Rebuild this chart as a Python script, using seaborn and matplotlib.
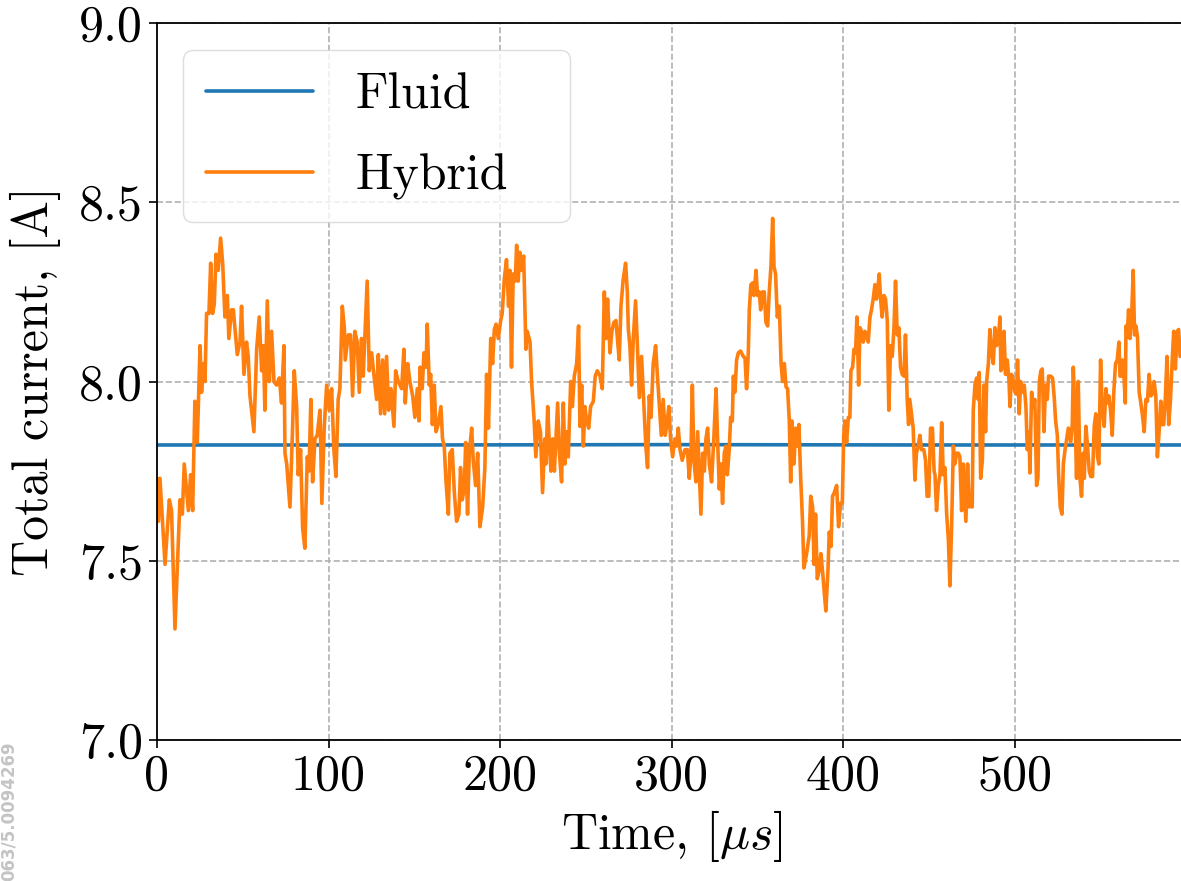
import numpy as np
import pandas as pd
import matplotlib
matplotlib.use("Agg")
import matplotlib.pyplot as plt
import seaborn as sns

# values
fluid_time = [0.0, 150.0, 300.0, 450.0, 597.0]
fluid_current = [7.823, 7.823, 7.824, 7.823, 7.823]

hybrid_time = [
    0.0, 0.8, 1.75, 4.7, 7.2, 8.5, 10.5, 13.4, 14.8, 15.9, 18.3, 19.6, 20.8, 22.1, 23.5,
    25.1, 26.0, 27.0, 28.0, 28.9, 30.3, 31.3, 32.4, 33.4, 34.4, 35.7, 37.1, 38.3, 39.6,
    41.0, 41.9, 43.5, 44.5, 46.8, 48.4, 49.3, 50.7, 52.2, 53.2, 54.2, 56.5, 58.1, 59.6,
    61.0, 62.0, 62.9, 64.3, 65.5, 66.8, 68.2, 69.7, 71.3, 72.6, 74.0, 74.6,
    75.6, 77.5, 78.9, 80.0, 81.4, 82.3, 83.7, 84.9, 86.2, 87.6, 88.6, 89.7, 90.7, 92.1,
    93.4, 95.0, 96.1, 97.5, 98.9, 100.4, 101.8, 103.1, 104.3, 105.6, 106.6, 108.0, 109.2,
    109.7, 111.5, 112.8, 114.0, 115.3, 116.7, 117.9, 119.2, 120.2, 121.2, 122.5, 123.7,
    125.1, 126.4, 128.0, 129.0, 130.3, 131.5, 132.7, 133.8, 135.0, 136.4, 138.1, 139.1,
    140.6, 141.6, 142.6, 143.9, 144.7, 146.1, 147.4, 149.0, 150.3,
    151.7, 152.7, 153.3, 154.6, 155.6, 156.8, 157.5, 158.7, 159.5, 160.5, 161.6, 162.6,
    163.9, 165.5, 166.4, 167.4, 168.4, 169.8, 170.7, 172.1, 173.3, 174.6, 176.0, 176.9,
    177.9, 179.1, 179.9, 181.0, 182.0, 183.4, 184.3, 185.7, 186.9, 188.2, 189.8, 191.1,
    192.1, 193.2, 194.5, 195.6, 196.6, 197.6, 198.9, 200.3, 201.2, 202.4, 203.7, 204.9,
    205.7, 206.6, 207.6, 208.8, 209.6, 210.5, 211.5, 212.5, 213.7, 215.0, 215.8, 217.4,
    218.3, 219.7, 220.8, 222.2, 223.5, 224.7, 226.0,
    226.7, 227.7, 228.6, 229.6, 230.6, 231.6, 232.5, 233.5, 234.5, 235.8, 236.8, 237.8,
    238.7, 239.7, 241.1, 242.1, 243.2, 244.6, 245.7, 246.5, 247.5, 248.5, 249.4, 250.4,
    251.6, 252.7, 254.3, 255.4, 256.6, 258.2, 259.5, 260.7, 261.7, 262.6, 264.0, 265.1,
    266.3, 267.5, 268.5, 269.4, 270.4, 271.7, 273.1, 274.1, 274.7, 275.6, 276.6, 277.6,
    278.9, 279.9, 281.1, 282.4, 283.8, 284.9, 285.9, 286.9, 287.9, 289.2, 290.6, 291.6,
    292.7, 293.9, 295.0, 296.2, 297.4, 298.3, 299.3, 300.5, 301.8,
    302.8, 303.8, 304.8, 306.1, 307.7, 309.1, 310.2, 311.2, 312.0, 312.9, 314.1, 315.1,
    316.0, 317.0, 318.0, 319.0, 319.9, 320.9, 321.9, 323.2, 324.6, 325.8, 326.7, 327.7,
    328.7, 329.6, 330.6, 331.6, 332.4, 333.5, 334.3, 335.3, 335.9, 336.8, 337.8, 338.8,
    340.1, 341.7, 342.7, 343.6, 344.6, 345.2, 346.1, 347.1, 347.9, 349.1, 350.0, 351.0,
    351.8, 353.0, 353.9, 354.9, 355.9, 356.8, 357.8, 358.8, 359.6, 360.5, 361.5, 362.7,
    363.7, 364.6, 365.6, 366.6, 367.5, 368.5, 369.3, 370.0, 371.2, 372.2, 373.3, 374.1,
    375.1, 376.2, 377.0,
    378.6, 380.1, 381.0, 382.1, 382.9, 383.8, 384.8, 385.8, 386.9, 387.9, 388.9, 389.8,
    391.0, 391.8, 392.8, 393.7, 394.7, 396.1, 397.2, 398.4, 399.4, 400.2, 400.9, 401.9,
    402.9, 403.8, 404.4, 405.4, 406.2, 407.1, 407.9, 408.9, 409.7, 410.6, 411.6, 412.6,
    413.5, 414.5, 415.5, 416.4, 417.4, 418.4, 419.3, 420.3, 420.9, 421.7, 422.6, 423.6,
    424.6, 425.6, 426.5, 427.5, 428.5, 429.5, 430.4, 431.4, 432.4, 433.3, 434.3, 435.3,
    436.2, 437.2, 438.0, 438.7, 439.7, 440.7, 441.7, 442.6, 443.6, 444.6, 445.5, 446.9,
    447.9, 448.8, 449.8, 450.8, 451.9, 452.9,
    453.4, 454.3, 455.3, 456.3, 457.3, 458.2, 459.2, 460.2, 461.2, 462.1, 463.1, 464.1,
    465.0, 466.0, 467.0, 467.9, 468.9, 469.9, 470.9, 471.4, 472.4, 473.4, 474.4, 475.1,
    475.7, 476.7, 477.7, 478.6, 479.2, 480.0, 481.0, 481.9, 482.9, 483.5, 484.5, 485.4,
    486.4, 487.4, 488.3, 489.3, 490.3, 491.3, 491.8, 492.8, 493.6, 494.5, 495.5, 496.5,
    497.1, 498.0, 499.0, 500.0, 501.0, 501.5, 502.5, 503.3, 504.5, 505.4, 506.4, 507.2,
    508.2, 508.7, 509.7, 510.7, 511.6, 512.6, 513.4, 514.2, 515.1, 515.9, 516.9, 517.8,
    518.8, 519.6, 520.8, 521.9, 522.9, 523.7, 524.7, 525.4, 526.4, 527.4, 528.2, 529.2,
    531.1, 532.5, 533.4, 534.0, 535.0, 535.9, 536.9, 537.9, 538.8, 539.8, 540.4, 541.3,
    542.3, 543.3, 544.2, 545.2, 546.2, 547.1, 548.1, 548.9, 549.9, 550.8, 552.0, 553.0,
    553.8, 554.7, 555.7, 556.7, 557.6, 558.6, 559.6, 560.6, 561.2, 561.9, 562.7, 563.5,
    564.3, 564.7, 565.4, 566.2, 567.0, 568.0, 568.9, 569.7, 570.5, 571.4, 572.4, 573.2,
    574.2, 575.3, 576.3, 577.2, 578.2, 579.2, 580.1, 581.1, 582.1, 583.0, 584.0, 585.0,
    585.7, 586.7, 587.7, 588.6, 589.6, 590.6, 591.5, 592.5, 593.5, 594.5, 595.4, 596.2,
]

hybrid_current = [
    7.73, 7.61, 7.73, 7.49, 7.67, 7.64, 7.31, 7.67, 7.63, 7.77, 7.64, 7.74, 7.64, 7.945, 7.83,
    8.10, 7.97, 8.05, 8.00, 8.19, 8.19, 8.33, 8.19, 8.215, 8.355, 8.31, 8.40, 8.33, 8.18,
    8.24, 8.12, 8.20, 8.20, 8.075, 8.11, 8.21, 8.02, 8.11, 8.07, 7.96, 7.86, 8.09, 8.18,
    8.03, 8.10, 7.92, 8.225, 8.00, 8.14, 8.00, 7.99, 8.01, 7.94, 8.10, 7.80,
    7.77, 7.65, 7.85, 8.03, 7.93, 7.74, 7.81, 7.59, 7.535, 7.79, 7.75, 7.95, 7.72, 7.84,
    7.85, 7.92, 7.66, 7.875, 7.99, 7.92, 7.98, 7.81, 7.735, 7.95, 7.98, 8.21, 8.15,
    8.06, 8.13, 8.13, 7.96, 8.14, 8.11, 7.97, 8.12, 8.015, 8.13, 8.28, 8.03,
    8.08, 8.02, 7.95, 8.075, 7.91, 8.06, 7.91, 8.07, 7.92, 7.98, 7.875, 8.03,
    8.00, 7.99, 7.98, 8.09, 7.94, 8.05, 8.00, 7.96, 7.90,
    7.98, 7.89, 8.04, 7.98, 8.08, 8.04, 8.16, 7.99, 8.02, 7.88, 7.99, 7.86,
    7.88, 7.93, 7.84, 7.82, 7.725, 7.63, 7.80, 7.81, 7.69, 7.61, 7.63, 7.76,
    7.67, 7.70, 7.83, 7.63, 7.80, 7.87, 7.78, 7.71, 7.80, 7.595, 7.65, 7.76,
    8.02, 7.87, 8.12, 8.05, 8.145, 8.16, 8.12, 8.17, 8.19, 8.285, 8.34, 8.21,
    8.31, 8.04, 8.30, 8.28, 8.38, 8.28, 8.36, 8.31, 8.35, 8.09, 8.14, 8.11,
    8.00, 7.90, 7.79, 7.89, 7.86, 7.69, 7.84,
    7.77, 7.93, 7.83, 7.75, 7.84, 7.75, 7.84, 7.94, 7.80, 7.72, 7.94, 7.77,
    7.86, 7.79, 8.00, 7.93, 8.015, 8.05, 8.155, 7.875, 7.99, 7.82, 7.93, 7.89,
    7.87, 7.93, 7.945, 8.015, 8.03, 8.015, 7.98, 8.25, 8.12, 8.23, 8.08, 8.14,
    8.165, 8.17, 8.11, 8.06, 8.21, 8.285, 8.33, 8.25, 8.145, 8.10, 7.99, 8.12,
    8.225, 8.11, 7.955, 8.07, 7.93, 7.82, 7.76, 7.96, 7.90, 8.05, 8.10, 8.02,
    7.94, 7.85, 7.95, 7.85, 7.89, 7.93, 7.84, 7.79, 7.84,
    7.82, 7.87, 7.81, 7.78, 7.81, 7.81, 7.73, 7.80, 7.99, 7.78, 7.72, 7.86,
    7.75, 7.63, 7.80, 7.75, 7.84, 7.87, 7.77, 7.72, 7.85, 7.98, 7.84, 7.70,
    7.77, 7.66, 7.80, 7.82, 7.74, 7.81, 7.90, 7.89, 8.015, 7.97, 8.06, 8.08,
    8.085, 8.07, 8.065, 7.98, 8.08, 8.20, 8.27, 8.275, 8.24, 8.31, 8.24, 8.25,
    8.20, 8.25, 8.25, 8.165, 8.155, 8.25, 8.32, 8.455, 8.32, 8.30, 8.18, 8.21,
    8.05, 8.00, 8.05, 7.985, 7.98, 7.89, 7.72, 7.89, 7.77, 7.87, 7.82, 7.88,
    7.735, 7.61, 7.48,
    7.52, 7.57, 7.68, 7.65, 7.49, 7.63, 7.45, 7.47, 7.52, 7.47, 7.41, 7.36,
    7.47, 7.58, 7.54, 7.68, 7.69, 7.71, 7.595, 7.66, 7.66, 7.85, 7.89, 7.83,
    7.90, 7.90, 8.03, 8.04, 8.09, 8.08, 8.18, 7.99, 8.15, 8.14, 8.11, 8.14,
    8.13, 8.11, 8.18, 8.20, 8.23, 8.27, 8.23, 8.27, 8.30, 8.23, 8.18, 8.24,
    8.23, 8.17, 7.92, 8.10, 8.07, 8.15, 8.28, 8.13, 8.15, 8.04, 8.02, 8.015,
    8.13, 7.95, 7.88, 7.95, 7.91, 7.87, 7.725, 7.80, 7.82, 7.85, 7.81, 7.81,
    7.78, 7.68, 7.68, 7.87, 7.87, 7.75,
    7.74, 7.64, 7.71, 7.74, 7.885, 7.74, 7.76, 7.63, 7.56, 7.43, 7.60, 7.82,
    7.77, 7.80, 7.80, 7.79, 7.64, 7.77, 7.66, 7.61, 7.77, 7.65, 7.66, 7.65,
    7.92, 7.99, 8.01, 7.95, 8.025, 7.73, 7.78, 7.99, 7.86, 8.00, 8.05, 8.145,
    8.08, 8.05, 8.15, 8.10, 8.12, 8.18, 8.03, 8.04, 8.14, 8.02, 8.06, 8.005,
    7.93, 8.02, 8.005, 7.97, 7.965, 8.06, 7.91, 8.00, 7.97, 7.99, 7.93, 7.81,
    7.86, 7.745, 7.97, 7.93, 7.95, 7.71, 7.73, 8.00, 8.03, 8.035, 7.86, 7.99,
    7.95, 8.015, 8.015, 8.01, 7.955, 7.89, 7.85, 7.745, 7.65, 7.63, 7.77, 7.81,
    7.87, 7.83, 7.88, 8.04, 7.91, 7.73, 8.00, 7.73, 7.68, 7.80, 7.73, 7.875,
    7.82, 7.75, 7.735, 7.735, 7.875, 7.91, 7.79, 7.77, 8.06, 7.93, 7.875, 7.98,
    7.94, 7.96, 7.92, 7.85, 7.97, 8.05, 8.06, 8.11, 8.015, 8.015, 8.06, 8.015,
    7.94, 8.155, 8.125, 8.20, 8.12, 8.18, 8.31, 8.13, 8.155, 8.125, 7.97, 7.945,
    7.91, 7.86, 7.95, 7.945, 8.02, 7.96, 7.965, 8.00, 7.96, 7.79, 7.86, 7.945,
    7.88, 7.88, 7.96, 8.07, 7.88, 7.945, 8.045, 8.14, 8.035, 8.14, 8.145, 8.07,
]

x_ticks = [0, 100, 200, 300, 400, 500]
y_ticks = [7.0, 7.5, 8.0, 8.5, 9.0]

sns.set_style("white")
plt.rcParams['font.family'] = ['cmr10', 'DejaVu Serif']
plt.rcParams['mathtext.fontset'] = 'cm'
plt.rcParams['axes.formatter.use_mathtext'] = True
plt.rcParams['axes.unicode_minus'] = False
plt.rcParams['text.color'] = 'black'
plt.rcParams['axes.labelcolor'] = 'black'
plt.rcParams['xtick.color'] = 'black'
plt.rcParams['ytick.color'] = 'black'

fig = plt.figure(figsize=(11.81, 8.81), dpi=100)
ax = fig.add_axes([0.1329, 0.16, 0.8718, 0.8139])

fluid = pd.DataFrame({'time': fluid_time, 'current': fluid_current})
hybrid = pd.DataFrame({'time': hybrid_time, 'current': hybrid_current})

sns.lineplot(data=fluid, x='time', y='current', ax=ax, color='#1f77b4',
             lw=2.6, label='Fluid', estimator=None, sort=False)
sns.lineplot(data=hybrid, x='time', y='current', ax=ax, color='#ff7f0e',
             lw=2.6, label='Hybrid', estimator=None, sort=False)

ax.set_xlim(0, 600)
ax.set_ylim(7.0, 9.0)
ax.set_xticks(x_ticks)
ax.set_yticks(y_ticks)
ax.set_xticklabels([str(t) for t in x_ticks])
ax.set_yticklabels([f'{t:.1f}' for t in y_ticks])
ax.tick_params(axis='both', labelsize=36, direction='out', length=6, width=1.2,
               bottom=True, left=True, pad=4, colors='black')
ax.grid(True, linestyle='--', color='#b0b0b0', linewidth=1.2)
for s in ax.spines.values():
    s.set_linewidth(1.3)
    s.set_color('black')

ax.set_xlabel(r'Time, [$\mu s$]', fontsize=36, labelpad=6)
ax.set_ylabel('Total current, [A]', fontsize=36, labelpad=13)

leg = ax.legend(loc='upper left', bbox_to_anchor=(0.0253, 0.725, 0.376, 0.237),
                mode='expand', borderaxespad=0, fontsize=36, handlelength=2.15,
                handletextpad=0.85, borderpad=0.45, labelspacing=0.7, fancybox=True,
                framealpha=0.8, edgecolor='#d5d5d5')

fig.text(0.007, 0.0, '063/5.0094269', rotation=90, color='#c4c4c4', fontsize=12,
         fontweight='bold', family='DejaVu Sans', ha='center', va='bottom')

fig.savefig('out.png', dpi=100)
